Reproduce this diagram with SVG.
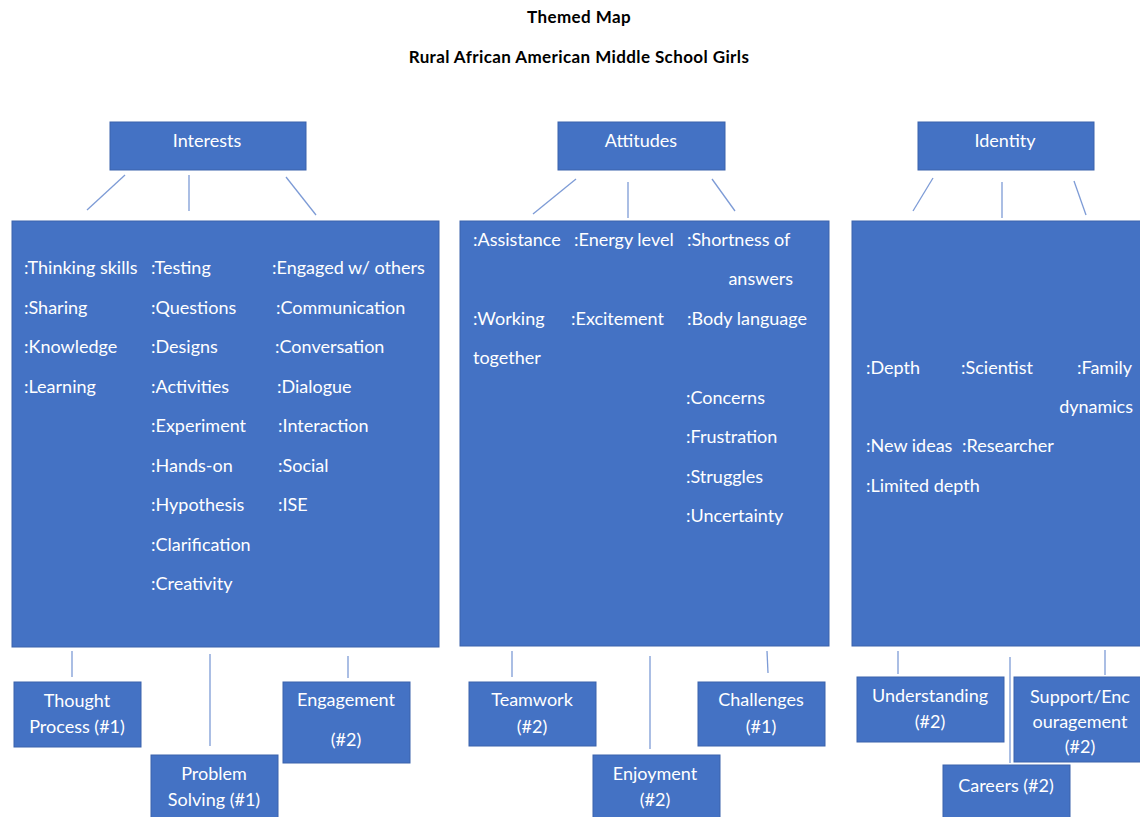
<svg xmlns="http://www.w3.org/2000/svg" width="1140" height="817" viewBox="0 0 1140 817">
  <style>
    .title { font-family: "Lato", "Liberation Sans", sans-serif; font-size: 17px; font-weight: bold; fill: #000; text-anchor: middle; letter-spacing: 0.4px; }
    .box { fill: #4472C4; stroke: #3A62AC; stroke-width: 1; }
    .t { font-family: "Lato", "Liberation Sans", sans-serif; font-size: 18px; fill: #ffffff; }
    .c { text-anchor: middle; }
    .e { text-anchor: end; }
    .link { stroke: #7D9BD6; stroke-width: 1.3; fill: none; }
  </style>
  <rect width="1140" height="817" fill="#ffffff"/>

  <text class="title" x="579" y="23">Themed Map</text>
  <text class="title" x="579" y="63">Rural African American Middle School Girls</text>

  <!-- connectors -->
  <g id="connectors">
    <line class="link" x1="125" y1="175" x2="87" y2="210"/>
    <line class="link" x1="189" y1="175" x2="189" y2="211"/>
    <line class="link" x1="286" y1="177" x2="316" y2="215"/>
    <line class="link" x1="576" y1="179" x2="533" y2="214"/>
    <line class="link" x1="628" y1="182" x2="628" y2="218"/>
    <line class="link" x1="712" y1="179" x2="735" y2="211"/>
    <line class="link" x1="933" y1="178" x2="913" y2="211"/>
    <line class="link" x1="1002" y1="182" x2="1002" y2="218"/>
    <line class="link" x1="1074" y1="181" x2="1086" y2="215"/>
    <line class="link" x1="72" y1="651" x2="72" y2="677"/>
    <line class="link" x1="210" y1="654" x2="210" y2="746"/>
    <line class="link" x1="348" y1="656" x2="348" y2="678"/>
    <line class="link" x1="512" y1="651" x2="512" y2="677"/>
    <line class="link" x1="650" y1="656" x2="650" y2="749"/>
    <line class="link" x1="767" y1="651" x2="768" y2="673"/>
    <line class="link" x1="898" y1="651" x2="898" y2="674"/>
    <line class="link" x1="1010" y1="657" x2="1010" y2="763"/>
    <line class="link" x1="1105" y1="650" x2="1105" y2="675"/>
  </g>

  <!-- theme headers -->
  <g id="interests">
    <rect class="box" x="110" y="122" width="196" height="48"/>
    <text class="t c" x="207" y="147">Interests</text>
  </g>
  <g id="attitudes">
    <rect class="box" x="558" y="122" width="167" height="48"/>
    <text class="t c" x="641" y="147">Attitudes</text>
  </g>
  <g id="identity">
    <rect class="box" x="918" y="122" width="176" height="48"/>
    <text class="t c" x="1005" y="147">Identity</text>
  </g>

  <!-- Interests codes -->
  <g id="interests-codes">
    <rect class="box" x="12" y="221" width="427" height="426"/>
    <text class="t" x="24" y="274">:Thinking skills</text>
    <text class="t" x="24" y="314">:Sharing</text>
    <text class="t" x="24" y="353">:Knowledge</text>
    <text class="t" x="24" y="393">:Learning</text>
    <text class="t" x="151" y="274">:Testing</text>
    <text class="t" x="151" y="314">:Questions</text>
    <text class="t" x="151" y="353">:Designs</text>
    <text class="t" x="151" y="393">:Activities</text>
    <text class="t" x="151" y="432">:Experiment</text>
    <text class="t" x="151" y="472">:Hands-on</text>
    <text class="t" x="151" y="511">:Hypothesis</text>
    <text class="t" x="151" y="551">:Clarification</text>
    <text class="t" x="151" y="590">:Creativity</text>
    <text class="t" x="272" y="274">:Engaged w/ others</text>
    <text class="t" x="276" y="314">:Communication</text>
    <text class="t" x="275" y="353">:Conversation</text>
    <text class="t" x="277" y="393">:Dialogue</text>
    <text class="t" x="278" y="432">:Interaction</text>
    <text class="t" x="278" y="472">:Social</text>
    <text class="t" x="278" y="511">:ISE</text>
  </g>

  <!-- Attitudes codes -->
  <g id="attitudes-codes">
    <rect class="box" x="460" y="221" width="369" height="425"/>
    <text class="t" x="473" y="246">:Assistance</text>
    <text class="t" x="574" y="246">:Energy level</text>
    <text class="t" x="687" y="246">:Shortness of</text>
    <text class="t e" x="793" y="285">answers</text>
    <text class="t" x="473" y="325">:Working</text>
    <text class="t" x="473" y="364">together</text>
    <text class="t" x="571" y="325">:Excitement</text>
    <text class="t" x="687" y="325">:Body language</text>
    <text class="t" x="686" y="404">:Concerns</text>
    <text class="t" x="686" y="443">:Frustration</text>
    <text class="t" x="686" y="483">:Struggles</text>
    <text class="t" x="686" y="522">:Uncertainty</text>
  </g>

  <!-- Identity codes -->
  <g id="identity-codes">
    <rect class="box" x="852" y="221" width="292" height="425"/>
    <text class="t" x="866" y="374">:Depth</text>
    <text class="t" x="961" y="374">:Scientist</text>
    <text class="t e" x="1132" y="374">:Family</text>
    <text class="t e" x="1133" y="413">dynamics</text>
    <text class="t" x="866" y="452">:New ideas</text>
    <text class="t" x="962" y="452">:Researcher</text>
    <text class="t" x="866" y="492">:Limited depth</text>
  </g>

  <!-- categories -->
  <g id="thought-process">
    <rect class="box" x="14" y="682" width="127" height="65"/>
    <text class="t c" x="77" y="707">Thought</text>
    <text class="t c" x="77" y="733">Process (#1)</text>
  </g>
  <g id="problem-solving">
    <rect class="box" x="151" y="755" width="127" height="66"/>
    <text class="t c" x="214" y="780">Problem</text>
    <text class="t c" x="214" y="806">Solving (#1)</text>
  </g>
  <g id="engagement">
    <rect class="box" x="283" y="682" width="127" height="81"/>
    <text class="t c" x="346" y="706">Engagement</text>
    <text class="t c" x="346" y="746">(#2)</text>
  </g>
  <g id="teamwork">
    <rect class="box" x="469" y="682" width="127" height="64"/>
    <text class="t c" x="532" y="706">Teamwork</text>
    <text class="t c" x="532" y="733">(#2)</text>
  </g>
  <g id="enjoyment">
    <rect class="box" x="593" y="755" width="127" height="66"/>
    <text class="t c" x="655" y="780">Enjoyment</text>
    <text class="t c" x="655" y="806">(#2)</text>
  </g>
  <g id="challenges">
    <rect class="box" x="698" y="682" width="127" height="64"/>
    <text class="t c" x="761" y="706">Challenges</text>
    <text class="t c" x="761" y="733">(#1)</text>
  </g>
  <g id="understanding">
    <rect class="box" x="857" y="677" width="147" height="65"/>
    <text class="t c" x="930" y="702">Understanding</text>
    <text class="t c" x="930" y="728">(#2)</text>
  </g>
  <g id="careers">
    <rect class="box" x="943" y="765" width="127" height="56"/>
    <text class="t c" x="1006" y="792">Careers (#2)</text>
  </g>
  <g id="support">
    <rect class="box" x="1014" y="677" width="130" height="85"/>
    <text class="t c" x="1080" y="703">Support/Enc</text>
    <text class="t c" x="1080" y="728">ouragement</text>
    <text class="t c" x="1080" y="753">(#2)</text>
  </g>
</svg>
